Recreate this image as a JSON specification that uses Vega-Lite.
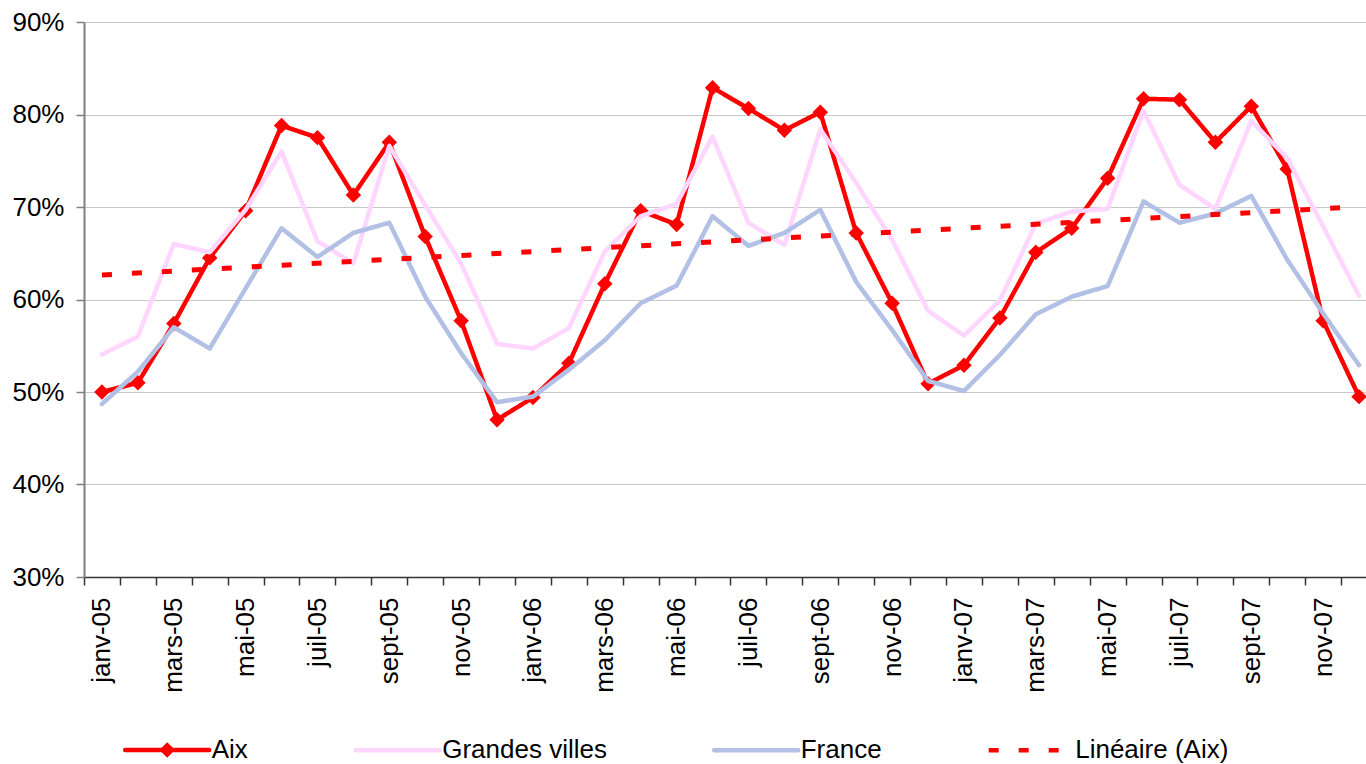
{
  "$schema": "https://vega.github.io/schema/vega-lite/v6.json",
  "width": 1282,
  "height": 555,
  "autosize": {"type": "none"},
  "padding": {"left": 84, "top": 22, "right": 0, "bottom": 187},
  "background": "white",
  "config": {
    "font": "Liberation Sans",
    "view": {"stroke": null}
  },
  "datasets": {
    "series": [
      {"mois": "janv-05", "serie": "Aix", "taux": 0.500},
      {"mois": "févr-05", "serie": "Aix", "taux": 0.510},
      {"mois": "mars-05", "serie": "Aix", "taux": 0.574},
      {"mois": "avr-05", "serie": "Aix", "taux": 0.645},
      {"mois": "mai-05", "serie": "Aix", "taux": 0.696},
      {"mois": "juin-05", "serie": "Aix", "taux": 0.788},
      {"mois": "juil-05", "serie": "Aix", "taux": 0.775},
      {"mois": "août-05", "serie": "Aix", "taux": 0.713},
      {"mois": "sept-05", "serie": "Aix", "taux": 0.770},
      {"mois": "oct-05", "serie": "Aix", "taux": 0.668},
      {"mois": "nov-05", "serie": "Aix", "taux": 0.577},
      {"mois": "déc-05", "serie": "Aix", "taux": 0.470},
      {"mois": "janv-06", "serie": "Aix", "taux": 0.494},
      {"mois": "févr-06", "serie": "Aix", "taux": 0.531},
      {"mois": "mars-06", "serie": "Aix", "taux": 0.617},
      {"mois": "avr-06", "serie": "Aix", "taux": 0.696},
      {"mois": "mai-06", "serie": "Aix", "taux": 0.681},
      {"mois": "juin-06", "serie": "Aix", "taux": 0.829},
      {"mois": "juil-06", "serie": "Aix", "taux": 0.8065},
      {"mois": "août-06", "serie": "Aix", "taux": 0.783},
      {"mois": "sept-06", "serie": "Aix", "taux": 0.8025},
      {"mois": "oct-06", "serie": "Aix", "taux": 0.672},
      {"mois": "nov-06", "serie": "Aix", "taux": 0.596},
      {"mois": "déc-06", "serie": "Aix", "taux": 0.509},
      {"mois": "janv-07", "serie": "Aix", "taux": 0.529},
      {"mois": "févr-07", "serie": "Aix", "taux": 0.580},
      {"mois": "mars-07", "serie": "Aix", "taux": 0.651},
      {"mois": "avr-07", "serie": "Aix", "taux": 0.677},
      {"mois": "mai-07", "serie": "Aix", "taux": 0.731},
      {"mois": "juin-07", "serie": "Aix", "taux": 0.817},
      {"mois": "juil-07", "serie": "Aix", "taux": 0.816},
      {"mois": "août-07", "serie": "Aix", "taux": 0.770},
      {"mois": "sept-07", "serie": "Aix", "taux": 0.809},
      {"mois": "oct-07", "serie": "Aix", "taux": 0.741},
      {"mois": "nov-07", "serie": "Aix", "taux": 0.577},
      {"mois": "déc-07", "serie": "Aix", "taux": 0.495},

      {"mois": "janv-05", "serie": "Grandes villes", "taux": 0.5405},
      {"mois": "févr-05", "serie": "Grandes villes", "taux": 0.560},
      {"mois": "mars-05", "serie": "Grandes villes", "taux": 0.660},
      {"mois": "avr-05", "serie": "Grandes villes", "taux": 0.651},
      {"mois": "mai-05", "serie": "Grandes villes", "taux": 0.697},
      {"mois": "juin-05", "serie": "Grandes villes", "taux": 0.760},
      {"mois": "juil-05", "serie": "Grandes villes", "taux": 0.663},
      {"mois": "août-05", "serie": "Grandes villes", "taux": 0.639},
      {"mois": "sept-05", "serie": "Grandes villes", "taux": 0.766},
      {"mois": "oct-05", "serie": "Grandes villes", "taux": 0.702},
      {"mois": "nov-05", "serie": "Grandes villes", "taux": 0.639},
      {"mois": "déc-05", "serie": "Grandes villes", "taux": 0.552},
      {"mois": "janv-06", "serie": "Grandes villes", "taux": 0.547},
      {"mois": "févr-06", "serie": "Grandes villes", "taux": 0.569},
      {"mois": "mars-06", "serie": "Grandes villes", "taux": 0.652},
      {"mois": "avr-06", "serie": "Grandes villes", "taux": 0.690},
      {"mois": "mai-06", "serie": "Grandes villes", "taux": 0.7035},
      {"mois": "juin-06", "serie": "Grandes villes", "taux": 0.776},
      {"mois": "juil-06", "serie": "Grandes villes", "taux": 0.683},
      {"mois": "août-06", "serie": "Grandes villes", "taux": 0.659},
      {"mois": "sept-06", "serie": "Grandes villes", "taux": 0.784},
      {"mois": "oct-06", "serie": "Grandes villes", "taux": 0.726},
      {"mois": "nov-06", "serie": "Grandes villes", "taux": 0.6645},
      {"mois": "déc-06", "serie": "Grandes villes", "taux": 0.588},
      {"mois": "janv-07", "serie": "Grandes villes", "taux": 0.561},
      {"mois": "févr-07", "serie": "Grandes villes", "taux": 0.599},
      {"mois": "mars-07", "serie": "Grandes villes", "taux": 0.682},
      {"mois": "avr-07", "serie": "Grandes villes", "taux": 0.695},
      {"mois": "mai-07", "serie": "Grandes villes", "taux": 0.698},
      {"mois": "juin-07", "serie": "Grandes villes", "taux": 0.804},
      {"mois": "juil-07", "serie": "Grandes villes", "taux": 0.724},
      {"mois": "août-07", "serie": "Grandes villes", "taux": 0.698},
      {"mois": "sept-07", "serie": "Grandes villes", "taux": 0.793},
      {"mois": "oct-07", "serie": "Grandes villes", "taux": 0.753},
      {"mois": "nov-07", "serie": "Grandes villes", "taux": 0.679},
      {"mois": "déc-07", "serie": "Grandes villes", "taux": 0.604},

      {"mois": "janv-05", "serie": "France", "taux": 0.487},
      {"mois": "févr-05", "serie": "France", "taux": 0.522},
      {"mois": "mars-05", "serie": "France", "taux": 0.570},
      {"mois": "avr-05", "serie": "France", "taux": 0.547},
      {"mois": "mai-05", "serie": "France", "taux": 0.612},
      {"mois": "juin-05", "serie": "France", "taux": 0.677},
      {"mois": "juil-05", "serie": "France", "taux": 0.646},
      {"mois": "août-05", "serie": "France", "taux": 0.672},
      {"mois": "sept-05", "serie": "France", "taux": 0.683},
      {"mois": "oct-05", "serie": "France", "taux": 0.603},
      {"mois": "nov-05", "serie": "France", "taux": 0.542},
      {"mois": "déc-05", "serie": "France", "taux": 0.489},
      {"mois": "janv-06", "serie": "France", "taux": 0.495},
      {"mois": "févr-06", "serie": "France", "taux": 0.524},
      {"mois": "mars-06", "serie": "France", "taux": 0.556},
      {"mois": "avr-06", "serie": "France", "taux": 0.596},
      {"mois": "mai-06", "serie": "France", "taux": 0.615},
      {"mois": "juin-06", "serie": "France", "taux": 0.690},
      {"mois": "juil-06", "serie": "France", "taux": 0.658},
      {"mois": "août-06", "serie": "France", "taux": 0.672},
      {"mois": "sept-06", "serie": "France", "taux": 0.697},
      {"mois": "oct-06", "serie": "France", "taux": 0.619},
      {"mois": "nov-06", "serie": "France", "taux": 0.567},
      {"mois": "déc-06", "serie": "France", "taux": 0.512},
      {"mois": "janv-07", "serie": "France", "taux": 0.501},
      {"mois": "févr-07", "serie": "France", "taux": 0.540},
      {"mois": "mars-07", "serie": "France", "taux": 0.584},
      {"mois": "avr-07", "serie": "France", "taux": 0.603},
      {"mois": "mai-07", "serie": "France", "taux": 0.6145},
      {"mois": "juin-07", "serie": "France", "taux": 0.706},
      {"mois": "juil-07", "serie": "France", "taux": 0.683},
      {"mois": "août-07", "serie": "France", "taux": 0.693},
      {"mois": "sept-07", "serie": "France", "taux": 0.712},
      {"mois": "oct-07", "serie": "France", "taux": 0.643},
      {"mois": "nov-07", "serie": "France", "taux": 0.585},
      {"mois": "déc-07", "serie": "France", "taux": 0.529},

      {"mois": "janv-05", "serie": "Linéaire (Aix)", "taux": 0.6265},
      {"mois": "déc-07", "serie": "Linéaire (Aix)", "taux": 0.7003}
    ]
  },
  "data": {"name": "series"},
  "encoding": {
    "x": {
      "field": "mois",
      "type": "ordinal",
      "scale": {
        "type": "band",
        "domain": ["janv-05","févr-05","mars-05","avr-05","mai-05","juin-05","juil-05","août-05","sept-05","oct-05","nov-05","déc-05",
                   "janv-06","févr-06","mars-06","avr-06","mai-06","juin-06","juil-06","août-06","sept-06","oct-06","nov-06","déc-06",
                   "janv-07","févr-07","mars-07","avr-07","mai-07","juin-07","juil-07","août-07","sept-07","oct-07","nov-07","déc-07"],
        "range": [0, 1293],
        "paddingInner": 0,
        "paddingOuter": 0
      },
      "axis": {
        "title": null,
        "tickBand": "extent",
        "grid": false,
        "labelAngle": 270,
        "labelAlign": "right",
        "labelBaseline": "middle",
        "labelPadding": 12,
        "tickSize": 8,
        "tickColor": "#333333",
        "domainColor": "#333333",
        "domainWidth": 1.5,
        "tickWidth": 1.5,
        "labelFontSize": 26,
        "labelColor": "black",
        "labelOverlap": false,
        "labelBound": false,
        "labelFlush": false,
        "labelExpr": "test(/^(janv|mars|mai|juil|sept|nov)-/, datum.value) ? datum.value : ''"
      }
    },
    "y": {
      "field": "taux",
      "type": "quantitative",
      "scale": {"domain": [0.3, 0.9], "nice": false, "zero": false},
      "axis": {
        "title": null,
        "values": [0.3, 0.4, 0.5, 0.6, 0.7, 0.8, 0.9],
        "format": ".0%",
        "labelFontSize": 26,
        "labelColor": "black",
        "labelPadding": 12,
        "tickSize": 8,
        "tickColor": "#808080",
        "tickWidth": 1.5,
        "domainColor": "#808080",
        "domainWidth": 2,
        "grid": true,
        "gridColor": "#c8c8c8",
        "gridWidth": 1
      }
    },
    "color": {
      "field": "serie",
      "type": "nominal",
      "scale": {
        "domain": ["Aix", "Grandes villes", "France", "Linéaire (Aix)"],
        "range": ["#ff0000", "#ffd6ff", "#b3c0e6", "#ff0000"]
      },
      "legend": {
        "title": null,
        "orient": "none",
        "direction": "horizontal",
        "legendX": 38.7,
        "legendY": 683,
        "padding": 0,
        "symbolType": "stroke",
        "symbolSize": 7056,
        "symbolStrokeWidth": 4.5,
        "labelFontSize": 26,
        "labelColor": "black",
        "labelOffset": 0,
        "labelLimit": 1000,
        "columnPadding": 97.5,
        "encode": {
          "symbols": {
            "update": {
              "shape": {"signal": "datum.value === 'Aix' ? 'M-1,0L1,0M0,-0.11L0.11,0L0,0.11L-0.11,0Z' : 'M-1,0L1,0'"},
              "fill": {"signal": "datum.value === 'Aix' ? '#ff0000' : 'transparent'"},
              "strokeCap": {"signal": "datum.value === 'Linéaire (Aix)' ? 'butt' : 'round'"}
            }
          }
        }
      }
    },
    "strokeDash": {
      "field": "serie",
      "type": "nominal",
      "scale": {
        "domain": ["Aix", "Grandes villes", "France", "Linéaire (Aix)"],
        "range": [[1, 0], [1, 0], [1, 0], [10, 20]]
      },
      "legend": {
        "title": null,
        "orient": "none",
        "direction": "horizontal",
        "legendX": 38.7,
        "legendY": 683,
        "padding": 0,
        "symbolType": "stroke",
        "symbolSize": 7056,
        "symbolStrokeWidth": 4.5,
        "labelFontSize": 26,
        "labelColor": "black",
        "labelOffset": 0,
        "labelLimit": 1000,
        "columnPadding": 97.5,
        "encode": {
          "symbols": {
            "update": {
              "shape": {"signal": "datum.value === 'Aix' ? 'M-1,0L1,0M0,-0.11L0.11,0L0,0.11L-0.11,0Z' : 'M-1,0L1,0'"},
              "fill": {"signal": "datum.value === 'Aix' ? '#ff0000' : 'transparent'"},
              "strokeCap": {"signal": "datum.value === 'Linéaire (Aix)' ? 'butt' : 'round'"}
            }
          }
        }
      }
    }
  },
  "layer": [
    {
      "transform": [{"filter": "datum.serie === 'Aix'"}],
      "mark": {
        "type": "line",
        "strokeWidth": 4.5,
        "strokeJoin": "round",
        "strokeCap": "round",
        "point": {"shape": "diamond", "size": 240, "filled": true, "opacity": 1, "color": "#ff0000"}
      }
    },
    {
      "transform": [{"filter": "datum.serie === 'Grandes villes'"}],
      "mark": {"type": "line", "strokeWidth": 4.5, "strokeJoin": "round", "strokeCap": "round"}
    },
    {
      "transform": [{"filter": "datum.serie === 'France'"}],
      "mark": {"type": "line", "strokeWidth": 4.5, "strokeJoin": "round", "strokeCap": "round"}
    },
    {
      "transform": [{"filter": "datum.serie === 'Linéaire (Aix)'"}],
      "mark": {"type": "line", "strokeWidth": 5, "strokeCap": "butt"}
    }
  ]
}
